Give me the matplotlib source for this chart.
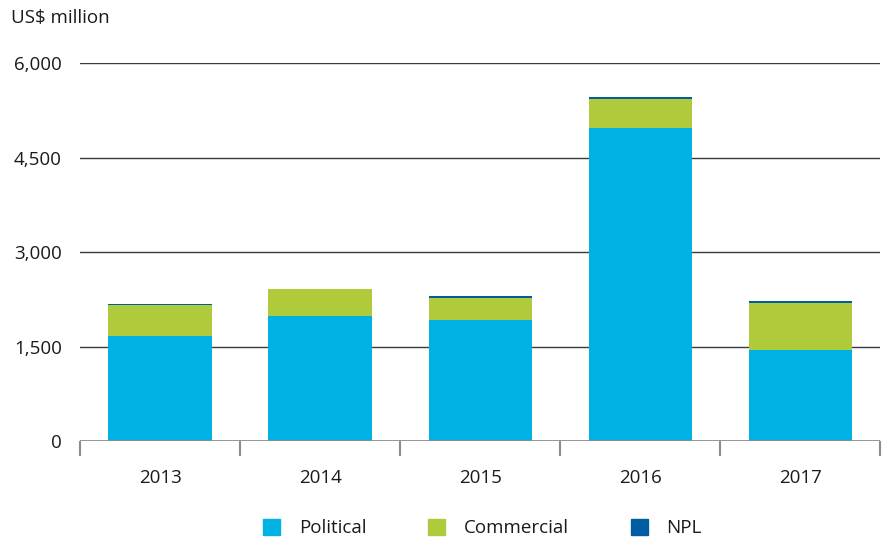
import numpy as np
import matplotlib.pyplot as plt
from matplotlib.patches import Patch

# %% data (US$ million)
years      = ["2013", "2014", "2015", "2016", "2017"]
political  = [1665, 1980, 1920, 4968, 1444]
commercial = [490, 430, 350, 460, 746]
npl        = [12, 0, 30, 32, 32]

yticks = [0, 1500, 3000, 4500, 6000]
ytick_labels = ["0", "1,500", "3,000", "4,500", "6,000"]

c_pol = "#00B2E3"
c_com = "#AFCB3C"
c_npl = "#005DA4"

plt.rcParams["font.family"] = ["Open Sans", "DejaVu Sans"]
txt = "#1a1a1a"
fs = 13.5

# %% plot
fig = plt.figure(figsize = (8.82, 5.39), dpi = 100)
ax = fig.add_axes([0.0907, 0.1818, 0.9073, 0.7013])

x = np.arange(len(years))
w = 0.645
pol = np.array(political)
com = np.array(commercial)

ax.bar(x, pol, width = w, color = c_pol, zorder = 3)
ax.bar(x, com, width = w, bottom = pol, color = c_com, zorder = 3)
ax.bar(x, npl, width = w, bottom = pol + com, color = c_npl, zorder = 3)

ax.set_xlim(-0.5, len(years) - 0.5)
ax.set_ylim(0, 6000)

for yv in yticks[1:]:
    ax.axhline(yv, color = "#3a3a3a", lw = 1, zorder = 1)
ax.axhline(0, color = "#8c8c8c", lw = 2, zorder = 4)

ax.set_yticks(yticks)
ax.set_yticklabels(ytick_labels, fontsize = fs, color = txt)
ax.tick_params(axis = "y", length = 0, pad = 13)

# category labels centred, boundary tick marks between them
ax.set_xticks(x)
ax.set_xticklabels(years, fontsize = fs, color = txt)
ax.tick_params(axis = "x", which = "major", length = 0, pad = 20)
ax.set_xticks(np.arange(-0.5, len(years)), minor = True)
ax.tick_params(axis = "x", which = "minor", length = 11, width = 1.5, color = "#8c8c8c")

for s in ax.spines.values():
    s.set_visible(False)

fig.text(0.012, 0.966, "US$ million", fontsize = fs, color = txt, va = "center", ha = "left")

handles = [Patch(color = c_pol, label = "Political"),
           Patch(color = c_com, label = "Commercial"),
           Patch(color = c_npl, label = "NPL")]
fig.legend(handles = handles, loc = "center", bbox_to_anchor = (0.547, 0.020), ncol = 3,
           frameon = False, fontsize = fs, handlelength = 0.9, handleheight = 0.9,
           handletextpad = 1.0, columnspacing = 3.3, labelcolor = txt)

fig.savefig("out.png", dpi = 100)
